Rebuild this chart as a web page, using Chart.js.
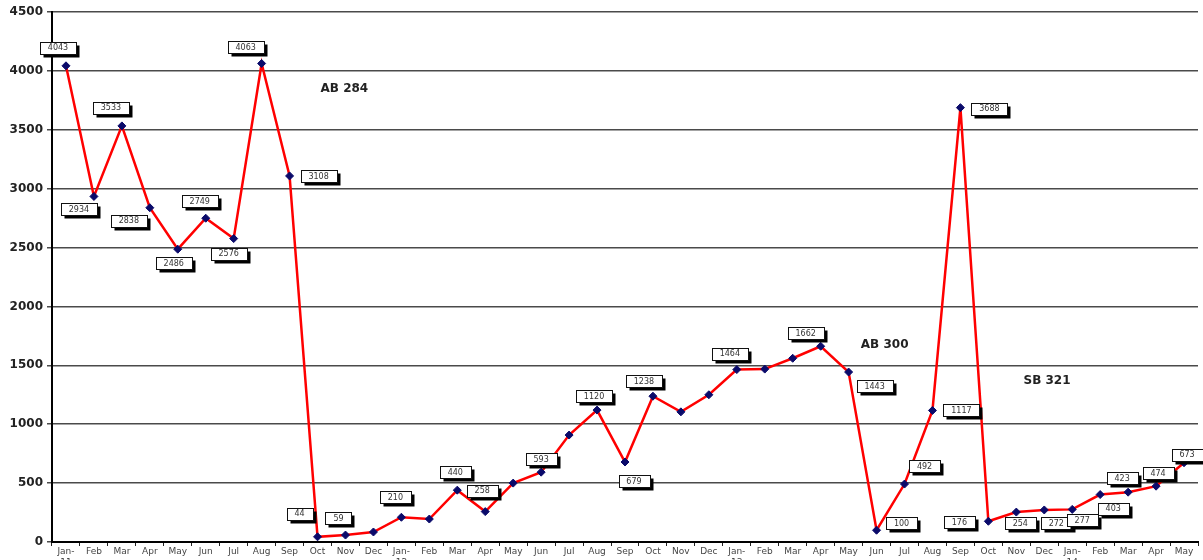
<!DOCTYPE html>
<html>
<head>
<meta charset="utf-8">
<style>
  html, body { margin: 0; padding: 0; background: #fff; }
  #wrap { width: 1203px; height: 560px; overflow: hidden; }
</style>
<script src="https://cdn.jsdelivr.net/npm/chart.js@4/dist/chart.umd.min.js"></script>
</head>
<body>
<div id="wrap"><canvas id="chart" width="1203" height="560"></canvas></div>
<script>
const months = [
    ['Jan-', '11'], 'Feb', 'Mar', 'Apr', 'May', 'Jun', 'Jul', 'Aug', 'Sep', 'Oct', 'Nov', 'Dec',
    ['Jan-', '12'], 'Feb', 'Mar', 'Apr', 'May', 'Jun', 'Jul', 'Aug', 'Sep', 'Oct', 'Nov', 'Dec',
    ['Jan-', '13'], 'Feb', 'Mar', 'Apr', 'May', 'Jun', 'Jul', 'Aug', 'Sep', 'Oct', 'Nov', 'Dec',
    ['Jan-', '14'], 'Feb', 'Mar', 'Apr', 'May'
];

const counts = [
    4043, 2934, 3533, 2838, 2486, 2749, 2576, 4063, 3108, 44, 59, 85,
    210, 195, 440, 258, 500, 593, 908, 1120, 679, 1238, 1105, 1250,
    1464, 1468, 1560, 1662, 1443, 100, 492, 1117, 3688, 176, 254, 272,
    277, 403, 423, 474, 673
];

// which points carry a value box (false = no box)
const labelled = [
    true, true, true, true, true, true, true, true, true, true, true, false,
    true, false, true, true, false, true, false, true, true, true, false, false,
    true, false, false, true, true, true, true, true, true, true, true, true,
    true, true, true, true, true
];

const yTicks = [0, 500, 1000, 1500, 2000, 2500, 3000, 3500, 4000, 4500];

const notes = ['AB 284', 'AB 300', 'SB 321'];
const noteX = [9.96, 29.29, 35.1];
const noteY = [3846, 1673, 1367];

// box offsets from each point, in px
const boxOffsets = [
    [-8, -18], [-15, 13], [-11, -18], [-21, 13], [-4, 14], [-6, -17], [-5, 15], [-16, -16], [29, 0], [-18, -23], [-7, -17], null,
    [-6, -20], null, [-2, -18], [-3, -21], null, [0, -13], null, [-3, -14], [9, 19], [-9, -15], null, null,
    [-7, -16], null, null, [-15, -13], [26, 14], [25, -7], [20, -18], [29, 0], [29, 1], [-29, 1], [4, 11], [12, 13],
    [10, 11], [13, 14], [-6, -14], [2, -13], [3, -8]
];

const valueBoxes = {
    id: 'valueBoxes',
    afterDatasetsDraw(chart) {
        const ctx = chart.ctx;
        const meta = chart.getDatasetMeta(0);
        ctx.save();
        ctx.font = '8px "DejaVu Sans", sans-serif';
        ctx.textAlign = 'center';
        ctx.textBaseline = 'middle';
        meta.data.forEach((pt, i) => {
            if (!labelled[i] || !boxOffsets[i]) return;
            const text = String(counts[i]);
            const w = Math.round(ctx.measureText(text).width) + 16;
            const h = 12;
            const cx = pt.x + boxOffsets[i][0];
            const cy = pt.y + boxOffsets[i][1];
            const x = Math.round(cx - w / 2) + 0.5;
            const y = Math.round(cy - h / 2) + 0.5;
            ctx.fillStyle = '#000';
            ctx.fillRect(x + 3, y + 3, w, h);
            ctx.fillStyle = '#fff';
            ctx.fillRect(x, y, w, h);
            ctx.strokeStyle = '#111';
            ctx.lineWidth = 1;
            ctx.strokeRect(x, y, w, h);
            ctx.fillStyle = '#333';
            ctx.fillText(text, cx, cy + 0.5);
        });
        ctx.restore();
    }
};

const notesPlugin = {
    id: 'notes',
    afterDraw(chart) {
        const ctx = chart.ctx;
        const xs = chart.scales.x;
        const ys = chart.scales.y;
        ctx.save();
        ctx.font = 'bold 12px "DejaVu Sans", sans-serif';
        ctx.fillStyle = '#222';
        ctx.textAlign = 'center';
        ctx.textBaseline = 'middle';
        notes.forEach((t, i) => {
            ctx.fillText(t, xs.getPixelForValue(noteX[i]), ys.getPixelForValue(noteY[i]));
        });
        ctx.restore();
    }
};

new Chart(document.getElementById('chart'), {
    type: 'line',
    data: {
        labels: months,
        datasets: [{
            data: counts,
            borderColor: '#ff0000',
            borderWidth: 2.5,
            tension: 0,
            pointStyle: 'rectRot',
            pointRadius: 4,
            pointBackgroundColor: '#0a0a6a',
            pointBorderColor: '#0a0a6a',
            pointBorderWidth: 1,
            fill: false
        }]
    },
    options: {
        responsive: false,
        animation: false,
        layout: { padding: { top: 12, right: 3, left: 0, bottom: 0 } },
        plugins: {
            legend: { display: false },
            tooltip: { enabled: false }
        },
        scales: {
            x: {
                offset: true,
                grid: {
                    offset: true,
                    drawOnChartArea: false,
                    drawTicks: true,
                    tickLength: 4,
                    color: '#222'
                },
                border: { color: '#000', width: 2 },
                ticks: {
                    autoSkip: false,
                    maxRotation: 0,
                    padding: 0,
                    color: '#444',
                    font: { family: '"DejaVu Sans", sans-serif', size: 9 }
                },
                afterFit(scale) { scale.height = 18; }
            },
            y: {
                min: 0,
                max: 4500,
                afterBuildTicks(scale) {
                    scale.ticks = yTicks.map(v => ({ value: v }));
                },
                grid: {
                    color: '#4a4a4a',
                    lineWidth: 1.5,
                    tickLength: 5
                },
                border: { color: '#000', width: 2 },
                ticks: {
                    padding: 4,
                    color: '#222',
                    font: { family: '"DejaVu Sans", sans-serif', size: 12, weight: 'bold' },
                    callback: (v) => String(v)
                },
                afterFit(scale) { scale.width = 52; }
            }
        }
    },
    plugins: [valueBoxes, notesPlugin]
});
</script>
</body>
</html>
